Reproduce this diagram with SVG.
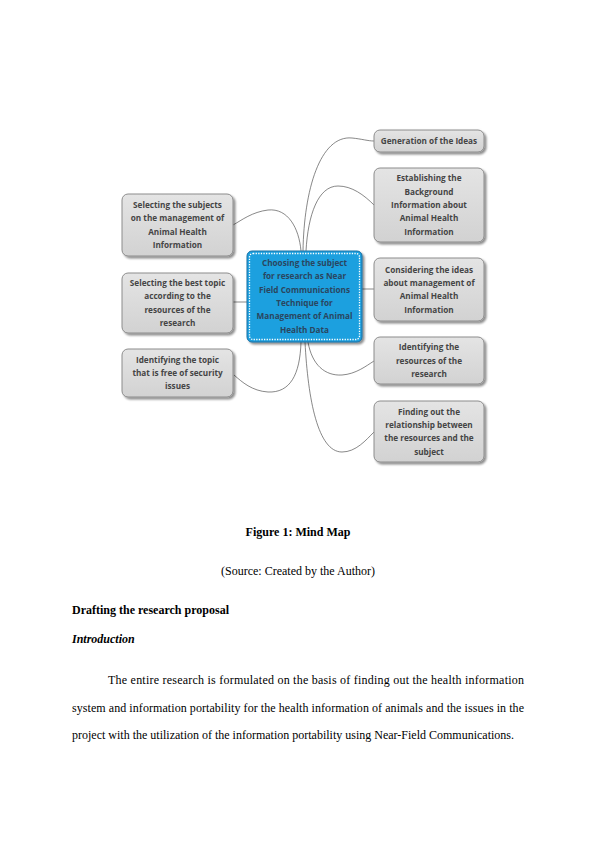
<svg xmlns="http://www.w3.org/2000/svg" width="596" height="842" viewBox="0 0 596 842">
<defs>
<filter id="sh" x="-10%" y="-10%" width="130%" height="130%">
<feGaussianBlur in="SourceAlpha" stdDeviation="1"/>
<feOffset dx="1.5" dy="1.5" result="b"/>
<feComponentTransfer><feFuncA type="linear" slope="0.45"/></feComponentTransfer>
<feMerge><feMergeNode/><feMergeNode in="SourceGraphic"/></feMerge>
</filter>
<linearGradient id="gg" x1="0" y1="0" x2="0" y2="1">
<stop offset="0" stop-color="#e4e4e4"/>
<stop offset="1" stop-color="#d2d2d2"/>
</linearGradient>
</defs>
<style>
.n{fill:url(#gg);stroke:#8c8c8c;stroke-width:1;filter:url(#sh)}
.c{fill:#1ea0df;stroke:#1a6fa3;stroke-width:1;filter:url(#sh)}
.d{fill:none;stroke:#ffffff;stroke-width:1.3;stroke-dasharray:1.3 1.3}
.t{font-family:"Open Sans","DejaVu Sans",sans-serif;font-size:8.2px;font-weight:700;fill:#454545;text-anchor:middle}
.tc{font-family:"Open Sans","DejaVu Sans",sans-serif;font-size:8.2px;font-weight:700;fill:#2a4660;text-anchor:middle}
.l{fill:none;stroke:#555;stroke-width:0.7}
.p{font-family:"Liberation Serif","Times New Roman",serif;font-size:12px;fill:#000}
</style>
<rect width="596" height="842" fill="#fff"/>
<g id="connectors">
<path class="l" d="M303,251 C304,190 320,135 352,138 C362,139 368,141 374,141"/>
<path class="l" d="M306,251 C308,215 318,186 338,186 C352,186 364,195 374,205"/>
<path class="l" d="M301,251 C299,228 288,208 268,210 C252,212 242,220 233,225"/>
<line class="l" x1="247" y1="302" x2="233" y2="302"/>
<line class="l" x1="362" y1="289" x2="374" y2="289"/>
<path class="l" d="M301,342 C300,375 290,393 268,392 C252,391 242,382 234,375"/>
<path class="l" d="M308,342 C312,365 325,376 342,375 C356,374 366,366 374,361"/>
<path class="l" d="M305,342 C308,400 318,452 342,452 C356,452 366,440 374,432"/>
</g>
<g id="center">
<rect class="c" x="247" y="251" width="115" height="91" rx="5"/>
<rect class="d" x="249.5" y="253.5" width="110" height="86" rx="3.5"/>
<text class="tc" x="304.5" y="266">Choosing the subject</text>
<text class="tc" x="304.5" y="279.3">for research as Near</text>
<text class="tc" x="304.5" y="292.6">Field Communications</text>
<text class="tc" x="304.5" y="306">Technique for</text>
<text class="tc" x="304.5" y="319.3">Management of Animal</text>
<text class="tc" x="304.5" y="332.6">Health Data</text>
</g>
<g id="left1">
<rect class="n" x="122" y="194" width="111" height="62" rx="6"/>
<text class="t" x="177.5" y="208">Selecting the subjects</text>
<text class="t" x="177.5" y="221.3">on the management of</text>
<text class="t" x="177.5" y="234.6">Animal Health</text>
<text class="t" x="177.5" y="248">Information</text>
</g>
<g id="left2">
<rect class="n" x="122" y="273" width="111" height="60" rx="6"/>
<text class="t" x="177.5" y="286">Selecting the best topic</text>
<text class="t" x="177.5" y="299.3">according to the</text>
<text class="t" x="177.5" y="312.6">resources of the</text>
<text class="t" x="177.5" y="326">research</text>
</g>
<g id="left3">
<rect class="n" x="122" y="349" width="111" height="48" rx="6"/>
<text class="t" x="177.5" y="362.7">Identifying the topic</text>
<text class="t" x="177.5" y="376">that is free of security</text>
<text class="t" x="177.5" y="389.3">issues</text>
</g>
<g id="right1">
<rect class="n" x="374" y="130" width="110" height="22" rx="6"/>
<text class="t" x="429" y="144">Generation of the Ideas</text>
</g>
<g id="right2">
<rect class="n" x="374" y="168" width="110" height="74" rx="6"/>
<text class="t" x="429" y="181.4">Establishing the</text>
<text class="t" x="429" y="194.7">Background</text>
<text class="t" x="429" y="208">Information about</text>
<text class="t" x="429" y="221.3">Animal Health</text>
<text class="t" x="429" y="234.6">Information</text>
</g>
<g id="right3">
<rect class="n" x="374" y="258" width="110" height="63" rx="6"/>
<text class="t" x="429" y="272.5">Considering the ideas</text>
<text class="t" x="429" y="285.8">about management of</text>
<text class="t" x="429" y="299.2">Animal Health</text>
<text class="t" x="429" y="312.5">Information</text>
</g>
<g id="right4">
<rect class="n" x="374" y="337" width="110" height="47" rx="6"/>
<text class="t" x="429" y="350.2">Identifying the</text>
<text class="t" x="429" y="363.5">resources of the</text>
<text class="t" x="429" y="376.8">research</text>
</g>
<g id="right5">
<rect class="n" x="374" y="401" width="110" height="61" rx="6"/>
<text class="t" x="429" y="414.5">Finding out the</text>
<text class="t" x="429" y="427.8">relationship between</text>
<text class="t" x="429" y="441.2">the resources and the</text>
<text class="t" x="429" y="454.5">subject</text>
</g>
<g id="body">
<text class="p" x="298" y="536" text-anchor="middle" font-weight="bold">Figure 1: Mind Map</text>
<text class="p" x="298" y="575" text-anchor="middle">(Source: Created by the Author)</text>
<text class="p" x="72" y="614" font-weight="bold">Drafting the research proposal</text>
<text class="p" x="72" y="643" font-weight="bold" font-style="italic">Introduction</text>
<text class="p" x="108" y="684" textLength="416" lengthAdjust="spacing">The entire research is formulated on the basis of finding out the health information</text>
<text class="p" x="72" y="712" textLength="452" lengthAdjust="spacing">system and information portability for the health information of animals and the issues in the</text>
<text class="p" x="72" y="739">project with the utilization of the information portability using Near-Field Communications.</text>
</g>
</svg>
